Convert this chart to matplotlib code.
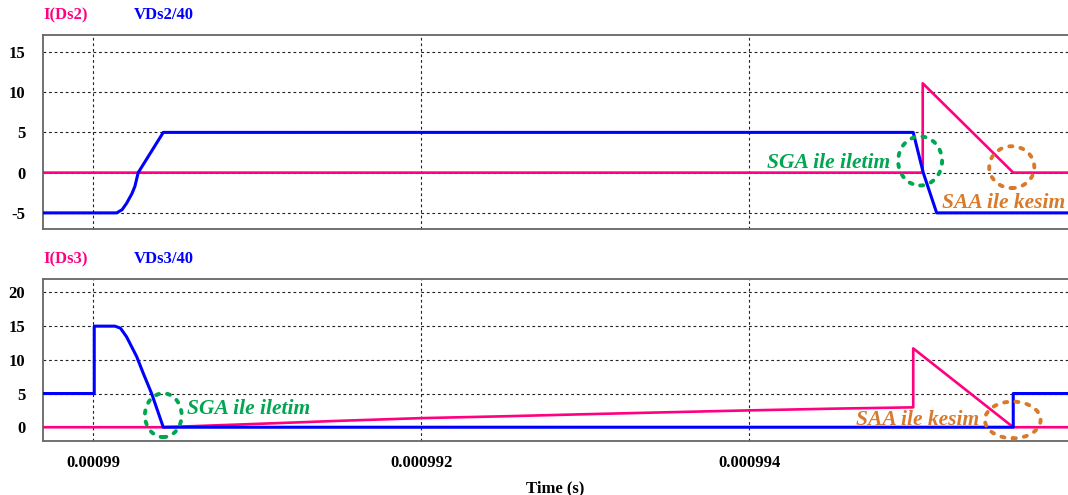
import matplotlib
matplotlib.use("Agg")
import matplotlib.pyplot as plt
from matplotlib.patches import Ellipse

plt.rcParams['font.family'] = ['Liberation Serif', 'DejaVu Serif']
plt.rcParams['font.weight'] = 'bold'

PINK = '#ff0080'
BLUE = '#0000ff'
GREEN = '#00a651'
ORANGE = '#d87a2c'

# times in microseconds, converted to seconds when plotted
t_vds2 = [989.60, 990.1415, 990.175, 990.2025, 990.235, 990.253, 990.273, 990.426,
          995.000, 995.061, 995.143, 996.00]
vds2 = [-5, -5, -4.6, -3.8, -2.6, -1.7, 0, 5, 5, 0, -5, -5]

t_ids2 = [989.60, 995.058, 995.058, 995.610, 996.00]
ids2 = [0, 0, 11.1, 0, 0]

t_vds3 = [989.60, 990.005, 990.005, 990.131, 990.165, 990.2025, 990.2635, 990.304,
          990.355, 990.426, 995.610, 995.610, 996.00]
vds3 = [5, 5, 15, 15, 14.7, 13.4, 10.5, 8.0, 5.0, 0, 0, 5, 5]

t_ids3 = [989.60, 990.426, 991.0, 991.5, 992.0, 992.5, 993.0, 993.5, 994.0, 994.5,
          995.0, 995.0, 995.610, 996.00]
ids3 = [0, 0, 0.5, 0.95, 1.35, 1.62, 1.93, 2.22, 2.5, 2.75, 2.95, 11.7, 0, 0]

x_ticks = [0.00099, 0.000992, 0.000994]
x_tick_labels = ['0.00099', '0.000992', '0.000994']
y_ticks_top = [-5, 0, 5, 10, 15]
y_ticks_bottom = [0, 5, 10, 15, 20]

# annotation ellipses: centre (us, value), width (us), height (value units)
marks_top = [
    dict(c=(995.042, 1.45), w=0.268, h=6.1, color=GREEN),
    dict(c=(995.601, 0.68), w=0.275, h=5.2, color=ORANGE),
]
marks_bottom = [
    dict(c=(990.426, 1.78), w=0.224, h=6.5, color=GREEN),
    dict(c=(995.607, 1.08), w=0.340, h=5.45, color=ORANGE),
]


def us(values):
    return [v * 1e-6 for v in values]


def setup_axes(ax, yticks, ylim, labels):
    ax.set_xlim(989.694e-6, 995.944e-6)
    ax.set_ylim(*ylim)
    ax.set_xticks(x_ticks)
    ax.set_yticks(yticks)
    ax.set_yticklabels([str(v) for v in yticks])
    ax.tick_params(axis='both', length=0, labelsize=12)
    ax.tick_params(axis='y', pad=13)
    ax.tick_params(axis='x', pad=10)
    ax.grid(True, linestyle=(0, (2.5, 2.5)), color='#222222', linewidth=0.8)
    ax.set_axisbelow(True)
    ax.spines['right'].set_visible(False)
    for side in ['left', 'top', 'bottom']:
        ax.spines[side].set_color('#666666')
        ax.spines[side].set_linewidth(1.3)
    # trace names above the plot
    ax.annotate(labels[0], xy=(0, 1), xycoords='axes fraction', xytext=(0, 20),
                textcoords='offset pixels', color=PINK, fontsize=12,
                fontweight='bold', ha='left', va='center')
    ax.annotate(labels[1], xy=(0, 1), xycoords='axes fraction', xytext=(91, 20),
                textcoords='offset pixels', color=BLUE, fontsize=12,
                fontweight='bold', ha='left', va='center')


def add_marks(ax, marks):
    for m in marks:
        e = Ellipse((m['c'][0] * 1e-6, m['c'][1]), m['w'] * 1e-6, m['h'],
                    fill=False, edgecolor=m['color'], linewidth=2.8,
                    linestyle=(0, (0.8, 2.1)), capstyle='round', zorder=5)
        ax.add_patch(e)


fig = plt.figure(figsize=(10.68, 4.95), dpi=100)
ax1 = fig.add_axes([0.0405, 0.5374, 0.9595, 0.3919])
ax2 = fig.add_axes([0.0405, 0.1097, 0.9595, 0.3267])

setup_axes(ax1, y_ticks_top, (-7.0, 17.1), ['I(Ds2)', 'VDs2/40'])
setup_axes(ax2, y_ticks_bottom, (-2.0, 22.0), ['I(Ds3)', 'VDs3/40'])

ax1.plot(us(t_ids2), ids2, color=PINK, linewidth=1.9, zorder=3)
ax1.plot(us(t_vds2), vds2, color=BLUE, linewidth=2.2, zorder=4)
ax2.plot(us(t_ids3), ids3, color=PINK, linewidth=1.9, zorder=3)
ax2.plot(us(t_vds3), vds3, color=BLUE, linewidth=2.2, zorder=4)

ax1.set_xticklabels([])
ax2.set_xticklabels(x_tick_labels)
ax2.set_xlabel('Time (s)', fontsize=12, fontweight='bold', labelpad=7)

add_marks(ax1, marks_top)
add_marks(ax2, marks_bottom)

note = dict(fontsize=15.5, fontweight='bold', fontstyle='italic', va='baseline', zorder=6)
ax1.text(994.862e-6, 0.62, 'SGA ile iletim', color=GREEN, ha='right', **note)
ax1.text(995.928e-6, -4.38, 'SAA ile kesim', color=ORANGE, ha='right', **note)
ax2.text(990.568e-6, 1.9, 'SGA ile iletim', color=GREEN, ha='left', **note)
ax2.text(995.403e-6, 0.34, 'SAA ile kesim', color=ORANGE, ha='right', **note)

fig.savefig('out.png', dpi=100)
